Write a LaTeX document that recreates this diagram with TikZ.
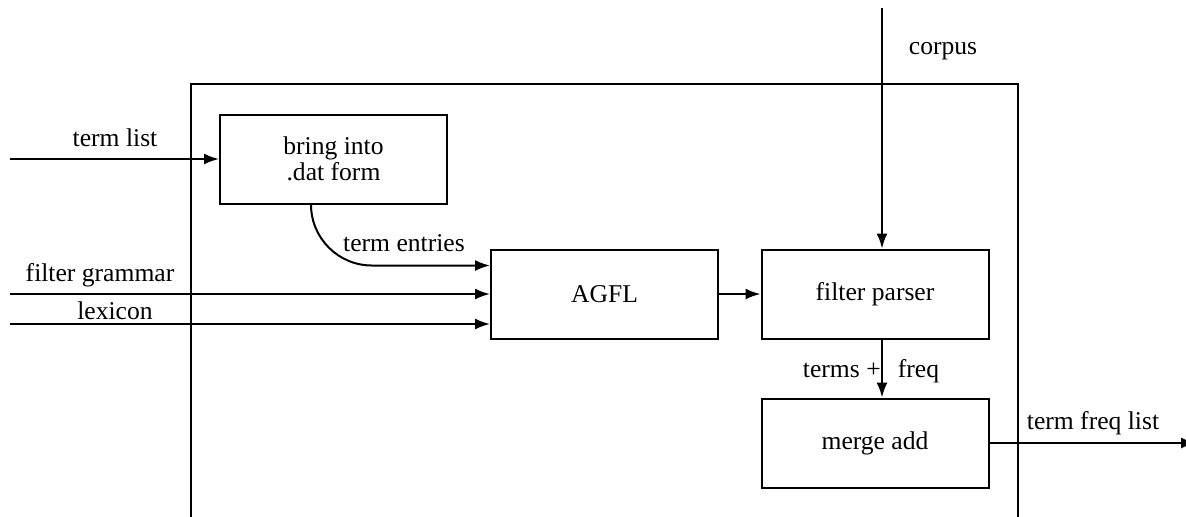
\documentclass[tikz,border=0pt]{standalone}
\usepackage{fontspec}
\setmainfont{Liberation Serif}
\usetikzlibrary{arrows.meta}

\tikzset{
	stage/.style={draw, line width=1pt, minimum width=113.5pt, minimum height=44.5pt, inner sep=0pt, align=center},
	flow/.style={line width=1pt, -{Latex[length=7.5pt,width=5.5pt]}},
	lbl/.style={inner sep=0pt}
}

\begin{document}
\begin{tikzpicture}[x=0.5pt, y=-0.5pt, font=\fontsize{12.8}{13}\selectfont]
			
			\useasboundingbox (0,0) rectangle (1186,516);
			
			% Outer frame, open at the bottom
			\draw[line width=1pt] (191,530) -- (191,84) -- (1018,84) -- (1018,530);
			
			% Stages
			\node[stage] (bring) at (333.5,159) {bring into\\.dat form};
			\node[stage] (agfl) at (604.5,294) {AGFL};
			\node[stage] (parser) at (875,294) {filter parser};
			\node[stage] (merge) at (875,443) {merge add};
			
			% Free ends
			\coordinate (termIn) at (10,159);
			\coordinate (grammarIn) at (10,294);
			\coordinate (lexIn) at (10,324);
			\coordinate (corpusIn) at (882,8);
			\coordinate (listOut) at (1196,443);
			
			% Inputs
			\draw[flow] (termIn) -- (bring.west);
			\draw[flow] (grammarIn) -- (agfl.west);
			\draw[flow] (lexIn) -- (lexIn -| agfl.west);
			\draw[flow] (corpusIn) -- (corpusIn |- parser.north);
			
			% Between stages
			\draw[flow] ([xshift=46pt]bring.south west) arc[start angle=180, end angle=270, radius=30.5pt] coordinate (entryTurn) -- (entryTurn -| agfl.west);
			\draw[flow] (agfl.east) -- (parser.west);
			\draw[flow] (corpusIn |- parser.south) -- (corpusIn |- merge.north);
			\draw[flow] (merge.east) -- (listOut);
			
			% Labels
			\node[lbl] (termLbl) at (115,138) {term list};
			\node[lbl] (grammarLbl) at (100,275) {filter grammar};
			\node[lbl] (lexLbl) at (115,311) {lexicon};
			\node[lbl] (entriesLbl) at (404,243) {term entries};
			\node[lbl] (corpusLbl) at (943,51) {corpus};
			\node[lbl] (freqLbl) at (871,371) {terms +\hspace{0.67em}freq};
			\node[lbl] (listLbl) at (1093,423) {term freq list};
		\end{tikzpicture}
\end{document}
